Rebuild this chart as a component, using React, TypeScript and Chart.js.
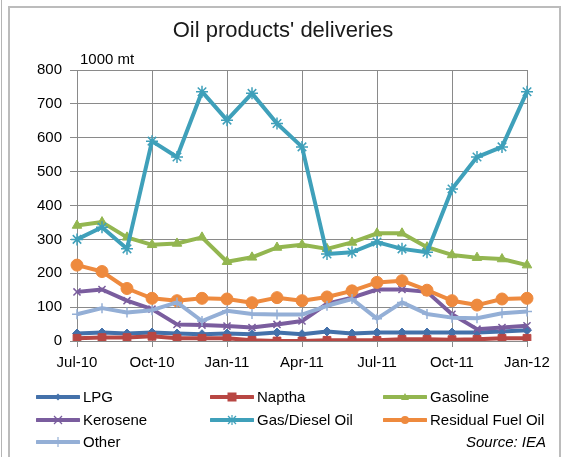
import React, { useEffect, useRef } from "react";
import { Chart, registerables } from "chart.js";

Chart.register(...registerables);

const months = [
  "Jul-10", "Aug-10", "Sep-10", "Oct-10", "Nov-10", "Dec-10",
  "Jan-11", "Feb-11", "Mar-11", "Apr-11", "May-11", "Jun-11",
  "Jul-11", "Aug-11", "Sep-11", "Oct-11", "Nov-11", "Dec-11", "Jan-12",
];

const lpg = [22, 25, 22, 25, 22, 20, 22, 20, 25, 20, 28, 22, 25, 25, 25, 25, 25, 28, 32];
const naptha = [8, 10, 10, 14, 8, 8, 8, 2, 0, 0, 2, 2, 2, 5, 5, 4, 5, 8, 8];
const gasoline = [341, 351, 306, 284, 288, 306, 234, 247, 276, 284, 272, 291, 318, 318, 277, 254, 246, 242, 224];
const kerosene = [145, 152, 119, 94, 49, 47, 44, 40, 49, 59, 110, 128, 152, 152, 145, 79, 35, 40, 45];
const gasDiesel = [300, 336, 272, 590, 543, 736, 652, 731, 642, 573, 257, 262, 292, 272, 262, 449, 543, 573, 736];
const residual = [224, 205, 155, 126, 119, 126, 124, 113, 128, 119, 130, 148, 173, 178, 150, 119, 106, 124, 126];
const other = [79, 97, 84, 91, 114, 59, 89, 80, 78, 78, 104, 124, 66, 114, 80, 69, 67, 82, 87];

const yTicks = [0, 100, 200, 300, 400, 500, 600, 700, 800];

const titleText = "Oil products' deliveries";
const unitText = "1000 mt";
const sourceText = "Source: IEA";

const FONT = "'Liberation Sans', Arial, sans-serif";
const GRID = "#8a8a8a";

type Series = {
  label: string;
  data: number[];
  color: string;
  marker: string;
  radius: number;
};

const series: Series[] = [
  { label: "LPG", data: lpg, color: "#4471AA", marker: "rectRot", radius: 4.5 },
  { label: "Naptha", data: naptha, color: "#B84743", marker: "rect", radius: 5.5 },
  { label: "Gasoline", data: gasoline, color: "#93B650", marker: "triangle", radius: 5.5 },
  { label: "Kerosene", data: kerosene, color: "#7A5D9E", marker: "crossRot", radius: 5 },
  { label: "Gas/Diesel Oil", data: gasDiesel, color: "#3FA0BA", marker: "star", radius: 6 },
  { label: "Residual Fuel Oil", data: residual, color: "#EE8A3E", marker: "circle", radius: 6 },
  { label: "Other", data: other, color: "#94AFD6", marker: "cross", radius: 5 },
];

function MarkerSvg({ s }: { s: Series }) {
  const cx = 22;
  const cy = 7;
  let shape: React.ReactNode = null;
  const c = s.color;
  switch (s.marker) {
    case "rectRot":
      shape = <polygon points={`${cx},${cy - 3.5} ${cx + 3.5},${cy} ${cx},${cy + 3.5} ${cx - 3.5},${cy}`} fill={c} />;
      break;
    case "rect":
      shape = <rect x={cx - 4.5} y={cy - 4.5} width={9} height={9} fill={c} />;
      break;
    case "triangle":
      shape = <polygon points={`${cx},${cy - 4} ${cx + 4},${cy + 3} ${cx - 4},${cy + 3}`} fill={c} />;
      break;
    case "crossRot":
      shape = (
        <g stroke={c} strokeWidth={1.2}>
          <line x1={cx - 4} y1={cy - 4} x2={cx + 4} y2={cy + 4} />
          <line x1={cx - 4} y1={cy + 4} x2={cx + 4} y2={cy - 4} />
        </g>
      );
      break;
    case "star":
      shape = (
        <g stroke={c} strokeWidth={1.2}>
          <line x1={cx - 4} y1={cy - 4} x2={cx + 4} y2={cy + 4} />
          <line x1={cx - 4} y1={cy + 4} x2={cx + 4} y2={cy - 4} />
          <line x1={cx} y1={cy - 5} x2={cx} y2={cy + 5} />
        </g>
      );
      break;
    case "circle":
      shape = <circle cx={cx} cy={cy} r={4} fill={c} />;
      break;
    case "cross":
      shape = (
        <g stroke={c} strokeWidth={1.2}>
          <line x1={cx} y1={cy - 5} x2={cx} y2={cy + 5} />
        </g>
      );
      break;
  }
  return (
    <svg width={44} height={14} style={{ display: "block" }}>
      <line x1={1} y1={cy} x2={43} y2={cy} stroke={c} strokeWidth={4} strokeLinecap="round" />
      {shape}
    </svg>
  );
}

const legendCols = [36, 210, 383];
const legendRows = [397, 420, 442];

export default function App() {
  const canvasRef = useRef<HTMLCanvasElement | null>(null);

  useEffect(() => {
    const canvas = canvasRef.current;
    if (!canvas) return;
    const chart = new Chart(canvas, {
      type: "line",
      data: {
        labels: months,
        datasets: series.map((s, i) => ({
          label: s.label,
          data: s.data,
          borderColor: s.color,
          backgroundColor: s.color,
          borderWidth: 4,
          borderJoinStyle: "round",
          pointStyle: s.marker as any,
          pointRadius: s.radius,
          pointBorderWidth: s.marker === "crossRot" || s.marker === "star" || s.marker === "cross" ? 1.5 : 1,
          pointBorderColor: s.color,
          pointBackgroundColor: s.color,
          tension: 0,
          fill: false,
          order: series.length - 1 - i,
        })),
      },
      options: {
        responsive: false,
        animation: false,
        devicePixelRatio: 1,
        layout: { padding: { top: 70, right: 37, bottom: 86, left: 0 } },
        plugins: {
          legend: { display: false },
          title: { display: false },
          tooltip: { enabled: false },
        },
        scales: {
          x: {
            type: "category",
            offset: false,
            afterFit: (s: any) => {
              s.height = 30;
            },
            grid: {
              color: (ctx: any) => (ctx.index % 3 === 0 ? GRID : "rgba(0,0,0,0)"),
              lineWidth: 1,
              tickLength: 6,
              drawTicks: true,
            },
            border: { display: true, color: GRID, width: 1 },
            ticks: {
              autoSkip: false,
              maxRotation: 0,
              minRotation: 0,
              padding: 7,
              color: "#000",
              font: { family: FONT, size: 15 },
              callback: (_v: any, i: number) => (i % 3 === 0 ? months[i] : ""),
            },
          },
          y: {
            min: 0,
            max: 800,
            afterFit: (s: any) => {
              s.width = 77;
            },
            afterBuildTicks: (s: any) => {
              s.ticks = yTicks.map((v) => ({ value: v }));
            },
            grid: { color: GRID, lineWidth: 1, tickLength: 7 },
            border: { display: true, color: GRID, width: 1 },
            ticks: {
              padding: 8,
              color: "#000",
              font: { family: FONT, size: 15 },
            },
          },
        },
      },
    });
    return () => chart.destroy();
  }, []);

  const textBase: React.CSSProperties = {
    position: "absolute",
    fontFamily: FONT,
    color: "#000",
    whiteSpace: "nowrap",
  };

  return (
    <div
      style={{
        position: "fixed",
        left: 0,
        top: 0,
        width: 564,
        height: 457,
        background: "#fff",
        overflow: "hidden",
      }}
    >
      <div style={{ position: "absolute", left: 1, top: 0, width: 1, height: 457, background: "#b5b5b5" }} />
      <div
        style={{
          position: "absolute",
          left: 8,
          top: 6,
          width: 553,
          height: 470,
          border: "2px solid #bcbcbc",
          boxSizing: "border-box",
        }}
      />
      <canvas
        ref={canvasRef}
        width={564}
        height={457}
        style={{ position: "absolute", left: 0, top: 0, width: 564, height: 457 }}
      />
      <div
        style={{
          ...textBase,
          left: 0,
          width: 566,
          top: 17,
          textAlign: "center",
          fontSize: 22,
          lineHeight: "26px",
          color: "#1a1a1a",
        }}
      >
        {titleText}
      </div>
      <div style={{ ...textBase, left: 80, top: 50, fontSize: 15, lineHeight: "18px" }}>{unitText}</div>
      {series.map((s, i) => {
        const col = i % 3;
        const row = Math.floor(i / 3);
        return (
          <div
            key={s.label}
            style={{
              ...textBase,
              left: legendCols[col],
              top: legendRows[row] - 9,
              height: 18,
              display: "flex",
              alignItems: "center",
              fontSize: 15,
              lineHeight: "18px",
            }}
          >
            <MarkerSvg s={s} />
            <span style={{ marginLeft: 3 }}>{s.label}</span>
          </div>
        );
      })}
      <div
        style={{
          ...textBase,
          right: 564 - 546,
          top: legendRows[2] - 9,
          fontSize: 15,
          lineHeight: "18px",
          fontStyle: "italic",
        }}
      >
        {sourceText}
      </div>
    </div>
  );
}
